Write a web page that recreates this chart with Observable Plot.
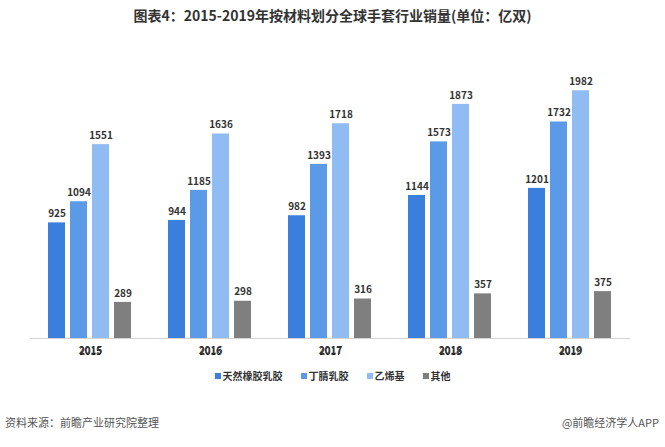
<!DOCTYPE html>
<html><head><meta charset="utf-8">
<script src="https://cdn.jsdelivr.net/npm/d3@7"></script>
<script src="https://cdn.jsdelivr.net/npm/@observablehq/plot@0.6"></script>
<style>
body{margin:0;background:#fff;width:665px;height:447px;position:relative;overflow:hidden;font-family:"Microsoft YaHei","Noto Sans CJK SC",sans-serif;}
#title{position:absolute;top:5px;left:0;width:665px;text-align:center;font-size:14px;font-weight:bold;color:#333;letter-spacing:0px;}
#chart{position:absolute;top:30px;left:0;}
#legend{position:absolute;top:368px;left:0;width:665px;text-align:center;font-size:10px;font-weight:bold;color:#333;}
#legend span.item{margin:0 9px;}
#legend i{display:inline-block;width:6px;height:6px;margin-right:2px;vertical-align:1px;}
#src{position:absolute;top:414px;left:5px;font-size:11px;color:#555;}
#brand{position:absolute;top:414px;right:6px;font-size:11px;color:#555;}
</style></head>
<body>
<div id="title">图表4：2015-2019年按材料划分全球手套行业销量(单位：亿双)</div>
<div id="chart"></div>
<div id="legend"></div>
<div id="src">资料来源：前瞻产业研究院整理</div>
<div id="brand">@前瞻经济学人APP</div>
<script>
const years = ["2015","2016","2017","2018","2019"];
const materials = ["天然橡胶乳胶","丁腈乳胶","乙烯基","其他"];
const naturalRubber = [925,944,982,1144,1201];
const nitrile = [1094,1185,1393,1573,1732];
const vinyl = [1551,1636,1718,1873,1982];
const others = [289,298,316,357,375];
const colors = ["#3b7fdc","#5a9ae6","#8fbcf2","#7f7f7f"];

const series = [naturalRubber, nitrile, vinyl, others];
const data = [];
years.forEach((y,i)=>materials.forEach((m,j)=>data.push({year:y, material:m, value:series[j][i]})));

const chart = Plot.plot({
  width:665, height:333,
  marginLeft:30, marginRight:35, marginTop:33, marginBottom:25,
  fx:{domain:years, paddingInner:0, paddingOuter:0, label:null, axis:"bottom"},
  x:{domain:materials, paddingInner:0.215, paddingOuter:0.8, axis:null},
  y:{domain:[0,2200], axis:null},
  color:{domain:materials, range:colors},
  style:{fontFamily:"'Microsoft YaHei','Noto Sans CJK SC',sans-serif", background:"#fff"},
  marks:[
    Plot.barY(data,{fx:"year", x:"material", y:"value", fill:"material"}),
    Plot.ruleY([0],{stroke:"#d4d4d4", strokeWidth:1}),
    Plot.text(data,{fx:"year", x:"material", y:"value", text:d=>String(d.value), dy:-9, fontSize:10, fontWeight:"bold", fill:"#333"}),
    Plot.axisFx({anchor:"bottom", tickSize:0, tickPadding:8, fontSize:10, fontWeight:"bold", fill:"#333", label:null})
  ]
});
document.getElementById("chart").appendChild(chart);

const lg = document.getElementById("legend");
materials.forEach((m,j)=>{
  const s=document.createElement("span"); s.className="item";
  s.innerHTML=`<i style="background:${colors[j]}"></i>${m}`;
  lg.appendChild(s);
});
</script>
</body></html>
